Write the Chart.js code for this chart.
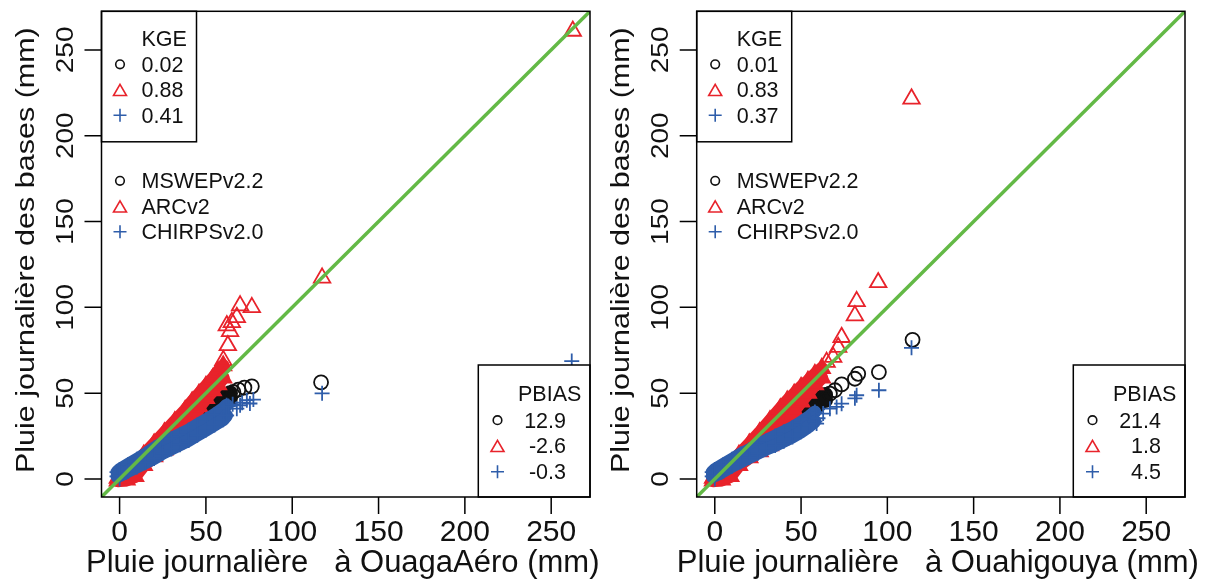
<!DOCTYPE html>
<html><head><meta charset="utf-8">
<script src="https://cdn.jsdelivr.net/npm/chart.js@4.4.1/dist/chart.umd.min.js"></script>
<style>
html,body{margin:0;padding:0;background:#fff;}
#wrap{position:relative;width:1215px;height:579px;overflow:hidden;background:#fff;}
canvas{position:absolute;top:0;}
</style></head><body>
<div id="wrap">
<canvas id="c1" width="607" height="579" style="left:0;width:607px;height:579px"></canvas>
<canvas id="c2" width="608" height="579" style="left:607px;width:608px;height:579px"></canvas>
</div>
<script>
// ---------------- DATA ----------------
const axisMin = -10.48, axisMax = 272.48;
const tickValues = [0, 50, 100, 150, 200, 250];
const tickLabels = ['0', '50', '100', '150', '200', '250'];
const seriesNames = ['MSWEPv2.2', 'ARCv2', 'CHIRPSv2.0'];
const stations = ['OuagaAéro', 'Ouahigouya'];
const yTitle = 'Pluie journalière des bases (mm)';
const xTitlePrefix = 'Pluie journalière   à ';
const kgeOuaga = ['0.02', '0.88', '0.41'];
const kgeOuahi = ['0.01', '0.83', '0.37'];
const pbiasOuaga = ['12.9', '-2.6', '-0.3'];
const pbiasOuahi = ['21.4', '1.8', '4.5'];

// OuagaAéro panel (x = station, y = product)
const mswepOuagaPts = [[65.9,50.7],[68.8,52.1],[72.3,53.2],[76.6,54],[116.7,56.3],[261.9,61]];
const mswepOuagaLow = [[0,2.5],[10,8],[20,14.5],[30,21.5],[40,29],[46,34],[50,38],[55,41.5],[60,44.5],[64,47]];
const mswepOuagaHigh = [[0,4],[10,10],[20,17],[30,24.5],[40,32],[46,37.5],[50,41.5],[55,45],[60,48],[64,50]];
const arcOuagaPts = [[60.1,69.1],[62.7,77.8],[64,86],[62.1,89.4],[65,91.3],[67.9,94.2],[69.8,101],[76.6,100],[117.3,117.2],[262.5,261]];
const arcOuagaLow = [[-1,-1],[4,-0.5],[9,1.5],[14,8],[20,13],[26,17],[32,20.5],[38,24.5],[42,30],[46,42],[50,47],[54,51.5],[57,55],[60,59]];
const arcOuagaHigh = [[-1,0.5],[4,3],[9,8],[14,14],[20,20.5],[26,27],[32,33.5],[38,40],[42,45],[46,49.5],[50,54],[54,58.5],[57,62.5],[60,66]];
const chirpsOuagaPts = [[0,0],[63,42.5],[65.5,43.5],[67.9,41],[69.8,42.9],[71,44.5],[73.7,45.9],[75.5,44],[77.5,46.3],[117.3,49.9],[261.9,68.7]];
const chirpsOuagaLow = [[-1.5,1.5],[0,2],[5,4.5],[10,7],[15,9.5],[20,12],[25,15],[30,17.5],[35,20],[40,22.5],[45,25.5],[50,28.5],[55,31.5],[60,34.5],[62,37]];
const chirpsOuagaHigh = [[-1.5,4],[0,5.5],[5,8.5],[10,11.5],[15,14.5],[20,18],[25,21],[30,23.5],[35,26],[40,28.5],[45,31.5],[50,34.5],[55,37.5],[60,41],[62,43]];

// Ouahigouya panel
const mswepOuahiPts = [[66.7,49.7],[69.6,51.7],[73.5,55.1],[81.2,58.4],[83.1,61.3],[95.1,62.3],[114.6,81.1]];
const mswepOuahiLow = [[0,2.5],[10,8],[20,14],[30,20],[40,27],[46,32],[50,36],[55,39.5],[60,43],[64,46]];
const mswepOuahiHigh = [[0,4],[10,10],[20,16.5],[30,23],[40,30],[46,35.5],[50,39.5],[55,43.5],[60,47],[64,49]];
const arcOuahiPts = [[64.8,68.1],[68.6,71],[71.5,76.8],[73.5,82.6],[81.2,95.2],[82.2,103.5],[94.7,114.5],[114,221.5]];
const arcOuahiLow = [[-1,-1],[4,-0.5],[9,1.5],[14,8],[20,12.5],[26,16],[32,19.5],[38,23],[42,28],[46,40],[50,45],[54,50],[58,55],[62,59]];
const arcOuahiHigh = [[-1,0.5],[4,3],[9,8],[14,14],[20,20.5],[26,27],[32,34],[38,41],[42,45.5],[46,49.5],[50,53.5],[54,57],[58,61],[62,64.5]];
const chirpsOuahiPts = [[0,0],[59,32.3],[59.8,35.4],[62.8,38.1],[66.7,41],[70.6,42],[73.5,43.9],[81.2,47],[82.2,48.8],[95.1,51.7],[114,76.4]];
const chirpsOuahiLow = [[-1.5,1.5],[0,2],[5,4.5],[10,7.5],[15,10],[20,12.5],[25,15],[30,17.5],[35,19.5],[40,22],[45,24.5],[50,27.5],[55,31],[58,33.5]];
const chirpsOuahiHigh = [[-1.5,4],[0,5.5],[5,8.5],[10,11.5],[15,14.5],[20,17],[25,20],[30,22.5],[35,25],[40,27.5],[45,30],[50,33],[55,36.5],[58,39]];

// ---------------- STYLE ----------------
const FONT = '"Liberation Sans", Arial, Helvetica, sans-serif';
const COLORS = ['#111111', '#e8232b', '#2e5daa'];
const STYLES = ['circle', 'triangle', 'cross'];
const RADII = [7, 9.5, 7.5];
const GREEN = '#63b946';

const toXY = arr => arr.map(p => ({x: p[0], y: p[1]}));

function bandSets(low, high, k, order) {
  const base = {
    type: 'line', showLine: true, tension: 0, borderColor: COLORS[k], borderWidth: 13,
    borderCapStyle: 'round', borderJoinStyle: 'round', backgroundColor: COLORS[k],
    pointStyle: STYLES[k], pointRadius: RADII[k], pointBorderWidth: 1.8,
    pointBorderColor: COLORS[k], pointBackgroundColor: COLORS[k], order: order
  };
  return [Object.assign({}, base, {data: toXY(low), fill: false}),
          Object.assign({}, base, {data: toXY(high), fill: '-1'})];
}
function ptSet(pts, k, order) {
  return {type: 'line', showLine: false, data: toXY(pts), pointStyle: STYLES[k], pointRadius: RADII[k],
    pointBorderWidth: 1.8, pointBorderColor: COLORS[k], pointBackgroundColor: 'rgba(0,0,0,0)',
    borderColor: COLORS[k], order: order, fill: false};
}

function drawSym(ctx, k, x, yBase) {
  ctx.save();
  ctx.strokeStyle = COLORS[k]; ctx.lineWidth = 1.6; ctx.beginPath();
  if (k === 0) { ctx.arc(x, yBase - 7.5, 4.3, 0, Math.PI * 2); }
  else if (k === 1) { const r = 7.5, y = yBase - 5.5; ctx.moveTo(x, y - r); ctx.lineTo(x + r * 0.866, y + r * 0.5); ctx.lineTo(x - r * 0.866, y + r * 0.5); ctx.closePath(); }
  else { const y = yBase - 7.5; ctx.moveTo(x - 6.5, y); ctx.lineTo(x + 6.5, y); ctx.moveTo(x, y - 6.5); ctx.lineTo(x, y + 6.5); }
  ctx.stroke(); ctx.restore();
}
function vText(ctx, str, x, y, size) {
  ctx.save(); ctx.translate(x, y); ctx.scale(0.87, 1); ctx.rotate(-Math.PI / 2);
  ctx.font = size + 'px ' + FONT; ctx.textAlign = 'center'; ctx.textBaseline = 'alphabetic';
  ctx.fillStyle = '#111'; ctx.fillText(str, 0, 0); ctx.restore();
}

function decor(station, kge, pbias) {
  return {
    id: 'decor',
    afterDraw(chart) {
      const ctx = chart.ctx, a = chart.chartArea, xs = chart.scales.x, ys = chart.scales.y;
      ctx.save();
      ctx.fillStyle = '#111'; ctx.strokeStyle = '#000'; ctx.lineWidth = 1.5;
      // KGE legend box
      ctx.fillStyle = '#fff'; ctx.fillRect(a.left, a.top, 95, 130.5);
      ctx.strokeRect(a.left, a.top, 95, 130.5);
      ctx.fillStyle = '#111'; ctx.font = '21.5px ' + FONT; ctx.textAlign = 'left'; ctx.textBaseline = 'alphabetic';
      ctx.fillText('KGE', a.left + 40, a.top + 34.8);
      [60.5, 86, 111.5].forEach((dy, k) => { ctx.fillText(kge[k], a.left + 40, a.top + dy); drawSym(ctx, k, a.left + 18.5, a.top + dy); });
      // series legend (no box)
      [177, 202.5, 228].forEach((dy, k) => { ctx.fillStyle = '#111'; ctx.fillText(seriesNames[k], a.left + 40, a.top + dy); drawSym(ctx, k, a.left + 18.5, a.top + dy); });
      // PBIAS legend box
      ctx.fillStyle = '#fff'; ctx.fillRect(a.right - 111.7, a.bottom - 132, 111.7, 132);
      ctx.strokeRect(a.right - 111.7, a.bottom - 132, 111.7, 132);
      ctx.fillStyle = '#111'; ctx.textAlign = 'left';
      ctx.fillText('PBIAS', a.right - 72, a.bottom - 96);
      ctx.textAlign = 'right';
      [69.3, 43.7, 17.7].forEach((dy, k) => { ctx.fillStyle = '#111'; ctx.fillText(pbias[k], a.right - 24, a.bottom - dy); drawSym(ctx, k, a.right - 92.5, a.bottom - dy); });
      // frame
      ctx.strokeStyle = '#000'; ctx.lineWidth = 1.5;
      ctx.strokeRect(a.left, a.top, a.right - a.left, a.bottom - a.top);
      // ticks and labels
      ctx.beginPath();
      tickValues.forEach(v => {
        const px = xs.getPixelForValue(v), py = ys.getPixelForValue(v);
        ctx.moveTo(px, a.bottom); ctx.lineTo(px, a.bottom + 17);
        ctx.moveTo(a.left - 17, py); ctx.lineTo(a.left, py);
      });
      ctx.stroke();
      ctx.fillStyle = '#111'; ctx.font = '30px ' + FONT; ctx.textAlign = 'center';
      tickValues.forEach((v, i) => {
        ctx.fillText(tickLabels[i], xs.getPixelForValue(v), a.bottom + 44);
        vText(ctx, tickLabels[i], a.left - 29, ys.getPixelForValue(v), 28);
      });
      // axis titles
      ctx.font = '31px ' + FONT; ctx.textAlign = 'center';
      ctx.fillText(xTitlePrefix + station + ' (mm)', (a.left + a.right) / 2 - 3, a.bottom + 75);
      vText(ctx, yTitle, a.left - 67.5, (a.top + a.bottom) / 2 - 4, 30.5);
      ctx.restore();
    }
  };
}

function buildChart(id, padding, station, kge, pbias, ms, arc, ch) {
  const datasets = [];
  datasets.push({type: 'line', data: [{x: axisMin, y: axisMin}, {x: axisMax, y: axisMax}], borderColor: GREEN,
    borderWidth: 3.5, pointRadius: 0, showLine: true, fill: false, order: 0});
  datasets.push(ptSet(ch.pts, 2, 1));
  datasets.push(...bandSets(ch.low, ch.high, 2, 1));
  datasets.push(ptSet(arc.pts, 1, 2));
  datasets.push(...bandSets(arc.low, arc.high, 1, 2));
  datasets.push(ptSet(ms.pts, 0, 3));
  datasets.push(...bandSets(ms.low, ms.high, 0, 3));
  return new Chart(document.getElementById(id), {
    type: 'line',
    data: {datasets},
    options: {
      responsive: false, animation: false, events: [],
      layout: {padding},
      plugins: {legend: {display: false}, tooltip: {enabled: false}},
      scales: {
        x: {type: 'linear', min: axisMin, max: axisMax, display: false},
        y: {type: 'linear', min: axisMin, max: axisMax, display: false}
      }
    },
    plugins: [decor(station, kge, pbias)]
  });
}

buildChart('c1', {left: 101.5, right: 17, top: 9.5, bottom: 82}, stations[0], kgeOuaga, pbiasOuaga,
  {pts: mswepOuagaPts, low: mswepOuagaLow, high: mswepOuagaHigh},
  {pts: arcOuagaPts, low: arcOuagaLow, high: arcOuagaHigh},
  {pts: chirpsOuagaPts, low: chirpsOuagaLow, high: chirpsOuagaHigh});
buildChart('c2', {left: 89.7, right: 30, top: 9.5, bottom: 82}, stations[1], kgeOuahi, pbiasOuahi,
  {pts: mswepOuahiPts, low: mswepOuahiLow, high: mswepOuahiHigh},
  {pts: arcOuahiPts, low: arcOuahiLow, high: arcOuahiHigh},
  {pts: chirpsOuahiPts, low: chirpsOuahiLow, high: chirpsOuahiHigh});
</script>
</body></html>
